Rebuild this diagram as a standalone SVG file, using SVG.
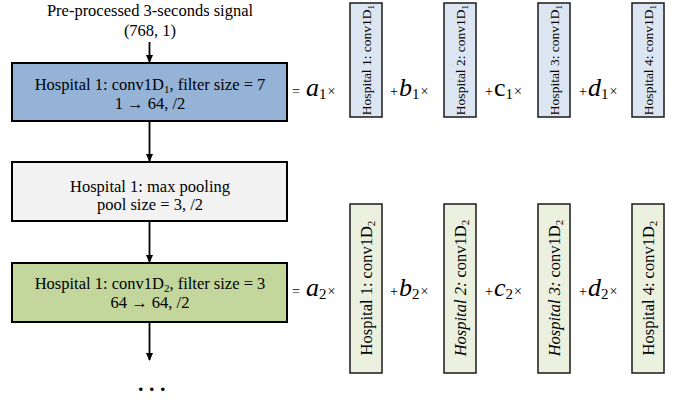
<svg xmlns="http://www.w3.org/2000/svg" width="678" height="401" viewBox="0 0 678 401">
<style>
text{font-family:"Liberation Serif","Times New Roman",serif;fill:#000}
.t{font-size:16.5px;text-anchor:middle}
.v1{font-size:13.5px;text-anchor:middle}
.v2{font-size:16.5px;text-anchor:middle}
.box{stroke:#000;stroke-width:2}
.vb{stroke:#1a1a1a;stroke-width:1.5}
.blue{fill:#95B3D7}.gray{fill:#F2F2F2}.green{fill:#C3D69B}
.lb{fill:#DCE6F2}.lg{fill:#EBF1DE}
.op{font-size:14px}
.mv{font-size:26px;font-style:italic}
.mu{font-size:26px}
.sb{font-size:15px}
.conn line{stroke:#000;stroke-width:1.8}
</style>
<defs>
<marker id="ah" markerWidth="8" markerHeight="8" refX="7" refY="4" orient="auto" markerUnits="userSpaceOnUse">
<path d="M0,0.5 L8,4 L0,7.5 Z" fill="#000"/>
</marker>
</defs>

<g id="input">
<text class="t" x="150" y="16">Pre-processed 3-seconds signal</text>
<text class="t" x="150" y="36">(768, 1)</text>
</g>

<g id="conv1">
<rect class="box blue" x="12" y="63" width="275" height="58"/>
<text class="t" x="150" y="90">Hospital 1: conv1D<tspan font-size="11" dy="3">1</tspan><tspan dy="-3">, filter size = 7</tspan></text>
<text class="t" x="150" y="109">1 → 64, /2</text>
</g>

<g id="pool">
<rect class="box gray" x="12" y="162" width="275" height="59"/>
<text class="t" x="150" y="192">Hospital 1: max pooling</text>
<text class="t" x="150" y="210">pool size = 3, /2</text>
</g>

<g id="conv2">
<rect class="box green" x="12" y="263" width="275" height="59"/>
<text class="t" x="150" y="289">Hospital 1: conv1D<tspan font-size="11" dy="3">2</tspan><tspan dy="-3">, filter size = 3</tspan></text>
<text class="t" x="150" y="308">64 → 64, /2</text>
</g>

<g id="more">
<text x="138" y="391" font-size="22" font-weight="bold" letter-spacing="5.5">...</text>
</g>

<g id="connectors" class="conn">
<line x1="149.5" y1="42" x2="149.5" y2="62" marker-end="url(#ah)"/>
<line x1="149.5" y1="122" x2="149.5" y2="161" marker-end="url(#ah)"/>
<line x1="149.5" y1="222" x2="149.5" y2="262" marker-end="url(#ah)"/>
<line x1="149.5" y1="323" x2="149.5" y2="360" marker-end="url(#ah)"/>
</g>

<g id="eq1">
<text x="292" y="96" class="op">=</text>
<text x="306" y="96"><tspan class="mv">a</tspan><tspan class="sb" dy="3">1</tspan><tspan class="op" dx="1" dy="-3">×</tspan></text>
<text x="390" y="96"><tspan class="op">+</tspan><tspan class="mv" dx="1">b</tspan><tspan class="sb" dy="3">1</tspan><tspan class="op" dx="1" dy="-3">×</tspan></text>
<text x="485" y="96"><tspan class="op">+</tspan><tspan class="mu" dx="1">c</tspan><tspan class="sb" dy="3">1</tspan><tspan class="op" dx="1" dy="-3">×</tspan></text>
<text x="579" y="96"><tspan class="op">+</tspan><tspan class="mv" dx="1">d</tspan><tspan class="sb" dy="3">1</tspan><tspan class="op" dx="1" dy="-3">×</tspan></text>
</g>

<g id="h1c1">
<rect class="vb lb" x="350" y="3" width="32" height="114"/>
<text class="v1" transform="translate(370.5,60) rotate(-90)">Hospital 1: conv1D<tspan font-size="9" dy="3">1</tspan></text>
</g>
<g id="h2c1">
<rect class="vb lb" x="444" y="3" width="32" height="114"/>
<text class="v1" transform="translate(464.5,60) rotate(-90)">Hospital 2: conv1D<tspan font-size="9" dy="3">1</tspan></text>
</g>
<g id="h3c1">
<rect class="vb lb" x="538" y="3" width="32" height="114"/>
<text class="v1" transform="translate(558.5,60) rotate(-90)">Hospital 3: conv1D<tspan font-size="9" dy="3">1</tspan></text>
</g>
<g id="h4c1">
<rect class="vb lb" x="632" y="3" width="32" height="114"/>
<text class="v1" transform="translate(652.5,60) rotate(-90)">Hospital 4: conv1D<tspan font-size="9" dy="3">1</tspan></text>
</g>

<g id="eq2">
<text x="292" y="296" class="op">=</text>
<text x="306" y="296"><tspan class="mv">a</tspan><tspan class="sb" dy="3">2</tspan><tspan class="op" dx="1" dy="-3">×</tspan></text>
<text x="390" y="296"><tspan class="op">+</tspan><tspan class="mv" dx="1">b</tspan><tspan class="sb" dy="3">2</tspan><tspan class="op" dx="1" dy="-3">×</tspan></text>
<text x="485" y="296"><tspan class="op">+</tspan><tspan class="mv" dx="1">c</tspan><tspan class="sb" dy="3">2</tspan><tspan class="op" dx="1" dy="-3">×</tspan></text>
<text x="579" y="296"><tspan class="op">+</tspan><tspan class="mv" dx="1">d</tspan><tspan class="sb" dy="3">2</tspan><tspan class="op" dx="1" dy="-3">×</tspan></text>
</g>

<g id="h1c2">
<rect class="vb lg" x="350" y="204" width="32" height="169"/>
<text class="v2" transform="translate(372,288) rotate(-90)">Hospital 1: conv1D<tspan font-size="11" dy="3">2</tspan></text>
</g>
<g id="h2c2">
<rect class="vb lg" x="444" y="204" width="32" height="169"/>
<text class="v2" transform="translate(466,288) rotate(-90)"><tspan font-style="italic">Hospital 2:</tspan> conv1D<tspan font-size="11" dy="3">2</tspan></text>
</g>
<g id="h3c2">
<rect class="vb lg" x="538" y="204" width="32" height="169"/>
<text class="v2" transform="translate(560,288) rotate(-90)"><tspan font-style="italic">Hospital 3:</tspan> conv1D<tspan font-size="11" dy="3">2</tspan></text>
</g>
<g id="h4c2">
<rect class="vb lg" x="632" y="204" width="32" height="169"/>
<text class="v2" transform="translate(654,288) rotate(-90)">Hospital 4: conv1D<tspan font-size="11" dy="3">2</tspan></text>
</g>
</svg>
